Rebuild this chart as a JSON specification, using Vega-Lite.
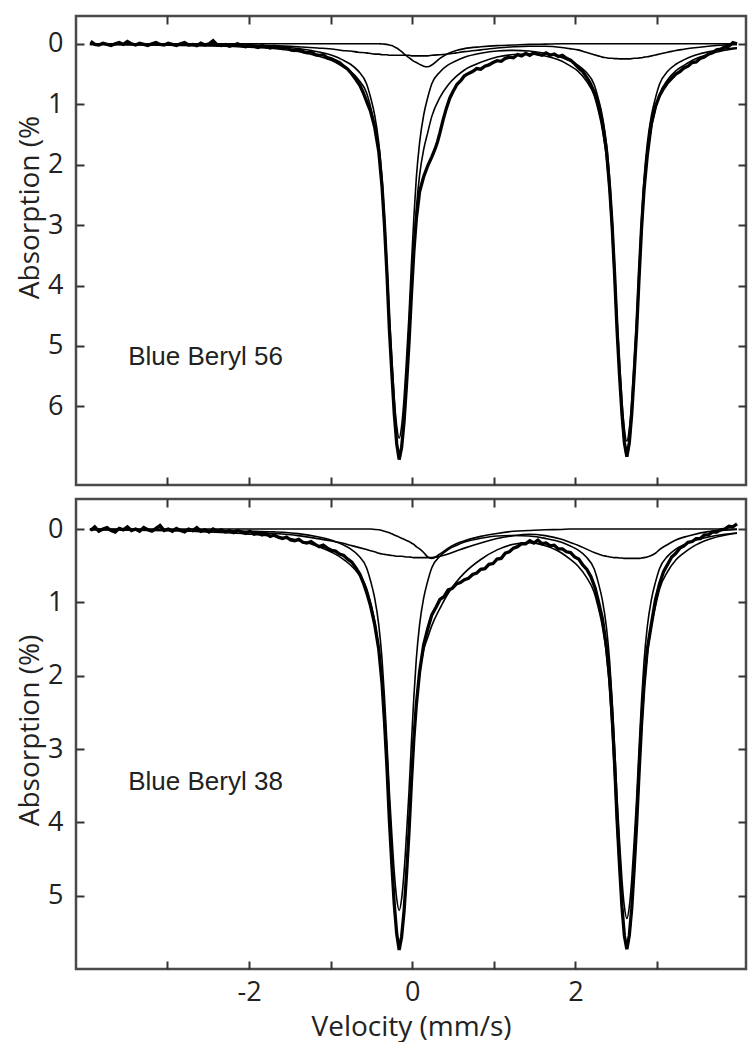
{
  "$schema": "https://vega.github.io/schema/vega-lite/v6.json",
  "padding": {"left": 14, "top": 13, "right": 0, "bottom": 0},
  "spacing": 14,
  "bounds": "flush",
  "config": {
    "view": {"stroke": "#4a4a4a", "strokeWidth": 2.5},
    "font": "Open Sans",
    "axis": {"domain": false, "grid": false, "tickColor": "#333333", "tickWidth": 2, "tickSize": -8, "labelFont": "Open Sans", "labelFontSize": 27, "labelColor": "#222222", "titleFont": "Open Sans", "titleFontSize": 28, "titleFontWeight": "normal", "titleColor": "#222222"}
  },
  "datasets": {
    "fitTop": [
      {"v":-3.95,"c":0.011,"a":0,"b":0,"t":0.011},
      {"v":-3.5,"c":0.013,"a":0,"b":0,"t":0.013},
      {"v":-3.0,"c":0.017,"a":0,"b":0.005,"t":0.022},
      {"v":-2.5,"c":0.025,"a":0,"b":0.01,"t":0.035},
      {"v":-2.0,"c":0.036,"a":0,"b":0.02,"t":0.056},
      {"v":-1.7,"c":0.048,"a":0,"b":0.03,"t":0.078},
      {"v":-1.4,"c":0.078,"a":0,"b":0.05,"t":0.128},
      {"v":-1.16,"c":0.131,"a":0,"b":0.07,"t":0.201},
      {"v":-0.96,"c":0.203,"a":0,"b":0.09,"t":0.293},
      {"v":-0.86,"c":0.262,"a":0,"b":0.11,"t":0.372},
      {"v":-0.76,"c":0.334,"a":0,"b":0.12,"t":0.454},
      {"v":-0.66,"c":0.452,"a":0,"b":0.14,"t":0.592},
      {"v":-0.56,"c":0.661,"a":0,"b":0.15,"t":0.811},
      {"v":-0.51,"c":0.889,"a":0,"b":0.16,"t":1.049},
      {"v":-0.46,"c":1.182,"a":0,"b":0.17,"t":1.352},
      {"v":-0.41,"c":1.638,"a":0,"b":0.17,"t":1.808},
      {"v":-0.37,"c":2.223,"a":0.003,"b":0.18,"t":2.406},
      {"v":-0.34,"c":2.874,"a":0.005,"b":0.18,"t":3.059},
      {"v":-0.31,"c":3.656,"a":0.01,"b":0.18,"t":3.846},
      {"v":-0.28,"c":4.502,"a":0.02,"b":0.19,"t":4.712},
      {"v":-0.25,"c":5.218,"a":0.03,"b":0.19,"t":5.438},
      {"v":-0.22,"c":5.869,"a":0.05,"b":0.19,"t":6.109},
      {"v":-0.19,"c":6.325,"a":0.07,"b":0.19,"t":6.585},
      {"v":-0.16,"c":6.524,"a":0.1,"b":0.19,"t":6.814},
      {"v":-0.13,"c":6.325,"a":0.13,"b":0.19,"t":6.645},
      {"v":-0.1,"c":5.869,"a":0.165,"b":0.19,"t":6.224},
      {"v":-0.07,"c":5.218,"a":0.2,"b":0.19,"t":5.608},
      {"v":-0.04,"c":4.502,"a":0.23,"b":0.19,"t":4.922},
      {"v":-0.01,"c":3.656,"a":0.26,"b":0.2,"t":4.116},
      {"v":0.02,"c":2.874,"a":0.29,"b":0.2,"t":3.364},
      {"v":0.05,"c":2.223,"a":0.31,"b":0.2,"t":2.733},
      {"v":0.09,"c":1.638,"a":0.34,"b":0.2,"t":2.178},
      {"v":0.14,"c":1.182,"a":0.37,"b":0.2,"t":1.752},
      {"v":0.19,"c":0.889,"a":0.38,"b":0.2,"t":1.469},
      {"v":0.24,"c":0.661,"a":0.35,"b":0.19,"t":1.201},
      {"v":0.34,"c":0.465,"a":0.24,"b":0.18,"t":0.885},
      {"v":0.44,"c":0.35,"a":0.16,"b":0.17,"t":0.68},
      {"v":0.54,"c":0.28,"a":0.11,"b":0.15,"t":0.54},
      {"v":0.64,"c":0.223,"a":0.08,"b":0.13,"t":0.433},
      {"v":0.84,"c":0.157,"a":0.05,"b":0.1,"t":0.307},
      {"v":1.04,"c":0.118,"a":0.03,"b":0.07,"t":0.218},
      {"v":1.24,"c":0.108,"a":0.02,"b":0.05,"t":0.178},
      {"v":1.43,"c":0.118,"a":0.01,"b":0.04,"t":0.168},
      {"v":1.63,"c":0.157,"a":0.005,"b":0.04,"t":0.202},
      {"v":1.83,"c":0.225,"a":0,"b":0.06,"t":0.285},
      {"v":1.93,"c":0.282,"a":0,"b":0.08,"t":0.362},
      {"v":2.03,"c":0.352,"a":0,"b":0.1,"t":0.452},
      {"v":2.13,"c":0.468,"a":0,"b":0.14,"t":0.608},
      {"v":2.23,"c":0.676,"a":0,"b":0.18,"t":0.856},
      {"v":2.28,"c":0.905,"a":0,"b":0.2,"t":1.105},
      {"v":2.33,"c":1.199,"a":0,"b":0.22,"t":1.419},
      {"v":2.38,"c":1.657,"a":0,"b":0.23,"t":1.887},
      {"v":2.42,"c":2.247,"a":0,"b":0.24,"t":2.487},
      {"v":2.45,"c":2.902,"a":0,"b":0.24,"t":3.142},
      {"v":2.48,"c":3.69,"a":0,"b":0.245,"t":3.935},
      {"v":2.51,"c":4.542,"a":0,"b":0.245,"t":4.787},
      {"v":2.54,"c":5.263,"a":0,"b":0.25,"t":5.513},
      {"v":2.57,"c":5.919,"a":0,"b":0.25,"t":6.169},
      {"v":2.6,"c":6.378,"a":0,"b":0.25,"t":6.628},
      {"v":2.63,"c":6.574,"a":0,"b":0.25,"t":6.824},
      {"v":2.66,"c":6.377,"a":0,"b":0.25,"t":6.627},
      {"v":2.69,"c":5.918,"a":0,"b":0.245,"t":6.163},
      {"v":2.72,"c":5.262,"a":0,"b":0.24,"t":5.502},
      {"v":2.75,"c":4.54,"a":0,"b":0.24,"t":4.78},
      {"v":2.78,"c":3.688,"a":0,"b":0.235,"t":3.923},
      {"v":2.81,"c":2.9,"a":0,"b":0.23,"t":3.13},
      {"v":2.84,"c":2.245,"a":0,"b":0.22,"t":2.465},
      {"v":2.88,"c":1.654,"a":0,"b":0.215,"t":1.869},
      {"v":2.93,"c":1.194,"a":0,"b":0.2,"t":1.394},
      {"v":2.98,"c":0.899,"a":0,"b":0.185,"t":1.084},
      {"v":3.03,"c":0.669,"a":0,"b":0.17,"t":0.839},
      {"v":3.13,"c":0.456,"a":0,"b":0.14,"t":0.596},
      {"v":3.23,"c":0.338,"a":0,"b":0.11,"t":0.448},
      {"v":3.33,"c":0.266,"a":0,"b":0.09,"t":0.356},
      {"v":3.43,"c":0.206,"a":0,"b":0.07,"t":0.276},
      {"v":3.63,"c":0.133,"a":0,"b":0.04,"t":0.173},
      {"v":3.83,"c":0.087,"a":0,"b":0.02,"t":0.107},
      {"v":3.98,"c":0.066,"a":0,"b":0.01,"t":0.076}
    ],
    "fitBot": [
      {"v":-3.95,"c":0.008,"a":0,"b":0,"t":0.008},
      {"v":-3.5,"c":0.01,"a":0,"b":0.005,"t":0.015},
      {"v":-3.0,"c":0.014,"a":0,"b":0.01,"t":0.024},
      {"v":-2.5,"c":0.02,"a":0,"b":0.02,"t":0.04},
      {"v":-2.0,"c":0.029,"a":0,"b":0.04,"t":0.069},
      {"v":-1.7,"c":0.039,"a":0,"b":0.06,"t":0.099},
      {"v":-1.4,"c":0.062,"a":0,"b":0.09,"t":0.152},
      {"v":-1.16,"c":0.104,"a":0,"b":0.13,"t":0.234},
      {"v":-0.96,"c":0.162,"a":0,"b":0.17,"t":0.332},
      {"v":-0.86,"c":0.209,"a":0,"b":0.19,"t":0.399},
      {"v":-0.76,"c":0.267,"a":0,"b":0.22,"t":0.487},
      {"v":-0.66,"c":0.36,"a":0,"b":0.25,"t":0.61},
      {"v":-0.56,"c":0.527,"a":0,"b":0.28,"t":0.807},
      {"v":-0.51,"c":0.709,"a":0,"b":0.295,"t":1.004},
      {"v":-0.46,"c":0.942,"a":0.005,"b":0.31,"t":1.257},
      {"v":-0.41,"c":1.306,"a":0.01,"b":0.33,"t":1.646},
      {"v":-0.37,"c":1.773,"a":0.02,"b":0.34,"t":2.133},
      {"v":-0.34,"c":2.292,"a":0.03,"b":0.345,"t":2.667},
      {"v":-0.31,"c":2.914,"a":0.04,"b":0.35,"t":3.304},
      {"v":-0.28,"c":3.589,"a":0.05,"b":0.355,"t":3.994},
      {"v":-0.25,"c":4.16,"a":0.065,"b":0.36,"t":4.585},
      {"v":-0.22,"c":4.679,"a":0.08,"b":0.365,"t":5.124},
      {"v":-0.19,"c":5.042,"a":0.095,"b":0.37,"t":5.507},
      {"v":-0.16,"c":5.201,"a":0.11,"b":0.37,"t":5.681},
      {"v":-0.13,"c":5.042,"a":0.125,"b":0.37,"t":5.537},
      {"v":-0.1,"c":4.679,"a":0.14,"b":0.375,"t":5.194},
      {"v":-0.07,"c":4.16,"a":0.155,"b":0.38,"t":4.695},
      {"v":-0.04,"c":3.589,"a":0.17,"b":0.38,"t":4.139},
      {"v":-0.01,"c":2.914,"a":0.19,"b":0.385,"t":3.489},
      {"v":0.02,"c":2.292,"a":0.21,"b":0.39,"t":2.892},
      {"v":0.05,"c":1.773,"a":0.24,"b":0.39,"t":2.403},
      {"v":0.09,"c":1.306,"a":0.27,"b":0.39,"t":1.966},
      {"v":0.14,"c":0.942,"a":0.32,"b":0.39,"t":1.652},
      {"v":0.19,"c":0.709,"a":0.38,"b":0.39,"t":1.479},
      {"v":0.24,"c":0.527,"a":0.4,"b":0.39,"t":1.317},
      {"v":0.34,"c":0.371,"a":0.34,"b":0.37,"t":1.081},
      {"v":0.44,"c":0.279,"a":0.26,"b":0.34,"t":0.879},
      {"v":0.54,"c":0.223,"a":0.2,"b":0.3,"t":0.723},
      {"v":0.64,"c":0.178,"a":0.16,"b":0.26,"t":0.598},
      {"v":0.84,"c":0.125,"a":0.1,"b":0.19,"t":0.415},
      {"v":1.04,"c":0.094,"a":0.06,"b":0.13,"t":0.284},
      {"v":1.24,"c":0.087,"a":0.03,"b":0.09,"t":0.207},
      {"v":1.43,"c":0.095,"a":0.02,"b":0.07,"t":0.185},
      {"v":1.63,"c":0.127,"a":0.01,"b":0.09,"t":0.227},
      {"v":1.83,"c":0.181,"a":0.005,"b":0.14,"t":0.326},
      {"v":1.93,"c":0.228,"a":0,"b":0.18,"t":0.408},
      {"v":2.03,"c":0.284,"a":0,"b":0.22,"t":0.504},
      {"v":2.13,"c":0.378,"a":0,"b":0.27,"t":0.648},
      {"v":2.23,"c":0.546,"a":0,"b":0.32,"t":0.866},
      {"v":2.28,"c":0.731,"a":0,"b":0.34,"t":1.071},
      {"v":2.33,"c":0.969,"a":0,"b":0.36,"t":1.329},
      {"v":2.38,"c":1.339,"a":0,"b":0.37,"t":1.709},
      {"v":2.42,"c":1.816,"a":0,"b":0.38,"t":2.196},
      {"v":2.45,"c":2.345,"a":0,"b":0.385,"t":2.73},
      {"v":2.48,"c":2.981,"a":0,"b":0.39,"t":3.371},
      {"v":2.51,"c":3.67,"a":0,"b":0.39,"t":4.06},
      {"v":2.54,"c":4.252,"a":0,"b":0.395,"t":4.647},
      {"v":2.57,"c":4.782,"a":0,"b":0.395,"t":5.177},
      {"v":2.6,"c":5.153,"a":0,"b":0.4,"t":5.553},
      {"v":2.63,"c":5.311,"a":0,"b":0.4,"t":5.711},
      {"v":2.66,"c":5.152,"a":0,"b":0.4,"t":5.552},
      {"v":2.69,"c":4.781,"a":0,"b":0.4,"t":5.181},
      {"v":2.72,"c":4.251,"a":0,"b":0.4,"t":4.651},
      {"v":2.75,"c":3.668,"a":0,"b":0.4,"t":4.068},
      {"v":2.78,"c":2.979,"a":0,"b":0.4,"t":3.379},
      {"v":2.81,"c":2.343,"a":0,"b":0.395,"t":2.738},
      {"v":2.84,"c":1.814,"a":0,"b":0.39,"t":2.204},
      {"v":2.88,"c":1.336,"a":0,"b":0.38,"t":1.716},
      {"v":2.93,"c":0.965,"a":0,"b":0.36,"t":1.325},
      {"v":2.98,"c":0.727,"a":0,"b":0.33,"t":1.057},
      {"v":3.03,"c":0.54,"a":0,"b":0.28,"t":0.82},
      {"v":3.13,"c":0.369,"a":0,"b":0.21,"t":0.579},
      {"v":3.23,"c":0.273,"a":0,"b":0.15,"t":0.423},
      {"v":3.33,"c":0.215,"a":0,"b":0.11,"t":0.325},
      {"v":3.43,"c":0.166,"a":0,"b":0.08,"t":0.246},
      {"v":3.63,"c":0.108,"a":0,"b":0.035,"t":0.143},
      {"v":3.83,"c":0.07,"a":0,"b":0.015,"t":0.085},
      {"v":3.98,"c":0.053,"a":0,"b":0.005,"t":0.058}
    ],
    "dataTop": [
      {"v":-3.94,"d":-0.04},{"v":-3.89,"d":0.01},{"v":-3.84,"d":0.02},{"v":-3.79,"d":-0.01},{"v":-3.74,"d":0.01},{"v":-3.69,"d":0.03},{"v":-3.64,"d":0.0},{"v":-3.59,"d":-0.02},{"v":-3.54,"d":0.01},{"v":-3.49,"d":-0.04},
      {"v":-3.44,"d":0.0},{"v":-3.39,"d":0.02},{"v":-3.34,"d":-0.01},{"v":-3.29,"d":0.01},{"v":-3.24,"d":0.03},{"v":-3.19,"d":0.0},{"v":-3.14,"d":-0.02},{"v":-3.09,"d":0.01},{"v":-3.04,"d":0.02},{"v":-2.99,"d":-0.01},
      {"v":-2.94,"d":0.01},{"v":-2.89,"d":0.03},{"v":-2.84,"d":0.0},{"v":-2.79,"d":-0.02},{"v":-2.74,"d":0.02},{"v":-2.69,"d":0.01},{"v":-2.64,"d":0.03},{"v":-2.59,"d":-0.01},{"v":-2.54,"d":0.02},{"v":-2.49,"d":0.0},
      {"v":-2.44,"d":-0.05},{"v":-2.39,"d":0.02},{"v":-2.34,"d":0.03},{"v":-2.29,"d":0.01},{"v":-2.24,"d":0.04},{"v":-2.19,"d":0.02},{"v":-2.14,"d":0.0},{"v":-2.09,"d":0.03},{"v":-2.04,"d":0.05},{"v":-1.99,"d":0.02},
      {"v":-1.94,"d":0.04},{"v":-1.89,"d":0.06},{"v":-1.84,"d":0.03},{"v":-1.79,"d":0.05},{"v":-1.74,"d":0.07},{"v":-1.69,"d":0.04},{"v":-1.64,"d":0.06},{"v":-1.59,"d":0.08},{"v":-1.54,"d":0.06},{"v":-1.49,"d":0.1},
      {"v":-1.44,"d":0.11},{"v":-1.39,"d":0.09},{"v":-1.34,"d":0.13},{"v":-1.29,"d":0.15},{"v":-1.24,"d":0.13},{"v":-1.19,"d":0.18},{"v":-1.14,"d":0.19},{"v":-1.09,"d":0.18},{"v":-1.04,"d":0.23},{"v":-0.99,"d":0.25},
      {"v":-0.94,"d":0.28},{"v":-0.89,"d":0.31},{"v":-0.84,"d":0.37},{"v":-0.79,"d":0.42},{"v":-0.74,"d":0.5},{"v":-0.69,"d":0.59},{"v":-0.64,"d":0.69},{"v":-0.6,"d":0.81},{"v":-0.56,"d":0.95},{"v":-0.51,"d":1.12},
      {"v":-0.46,"d":1.38},{"v":-0.41,"d":1.78},{"v":-0.37,"d":2.36},{"v":-0.34,"d":3.0},{"v":-0.31,"d":3.8},{"v":-0.28,"d":4.72},{"v":-0.25,"d":5.44},{"v":-0.22,"d":6.12},{"v":-0.19,"d":6.62},{"v":-0.16,"d":6.88},
      {"v":-0.13,"d":6.68},{"v":-0.1,"d":6.25},{"v":-0.07,"d":5.64},{"v":-0.04,"d":4.96},{"v":-0.01,"d":4.16},{"v":0.02,"d":3.44},{"v":0.05,"d":2.9},{"v":0.09,"d":2.45},{"v":0.14,"d":2.2},{"v":0.19,"d":2.02},
      {"v":0.24,"d":1.87},{"v":0.28,"d":1.74},{"v":0.31,"d":1.62},{"v":0.34,"d":1.47},{"v":0.38,"d":1.25},{"v":0.42,"d":1.06},{"v":0.46,"d":0.9},{"v":0.5,"d":0.79},{"v":0.55,"d":0.67},{"v":0.6,"d":0.6},
      {"v":0.64,"d":0.53},{"v":0.69,"d":0.49},{"v":0.74,"d":0.46},{"v":0.79,"d":0.41},{"v":0.84,"d":0.42},{"v":0.89,"d":0.37},{"v":0.94,"d":0.35},{"v":0.99,"d":0.31},{"v":1.04,"d":0.28},{"v":1.09,"d":0.29},
      {"v":1.14,"d":0.24},{"v":1.19,"d":0.22},{"v":1.24,"d":0.23},{"v":1.29,"d":0.18},{"v":1.34,"d":0.2},{"v":1.39,"d":0.16},{"v":1.44,"d":0.19},{"v":1.49,"d":0.15},{"v":1.54,"d":0.17},{"v":1.59,"d":0.19},
      {"v":1.64,"d":0.15},{"v":1.69,"d":0.19},{"v":1.74,"d":0.17},{"v":1.79,"d":0.21},{"v":1.84,"d":0.19},{"v":1.89,"d":0.24},{"v":1.94,"d":0.27},{"v":1.99,"d":0.33},{"v":2.04,"d":0.4},{"v":2.09,"d":0.46},
      {"v":2.14,"d":0.56},{"v":2.18,"d":0.65},{"v":2.23,"d":0.8},{"v":2.28,"d":0.99},{"v":2.33,"d":1.3},{"v":2.38,"d":1.76},{"v":2.42,"d":2.4},{"v":2.45,"d":3.02},{"v":2.48,"d":3.82},{"v":2.51,"d":4.74},
      {"v":2.54,"d":5.48},{"v":2.57,"d":6.12},{"v":2.6,"d":6.6},{"v":2.63,"d":6.83},{"v":2.66,"d":6.6},{"v":2.69,"d":6.12},{"v":2.72,"d":5.45},{"v":2.75,"d":4.74},{"v":2.78,"d":3.86},{"v":2.81,"d":3.05},
      {"v":2.84,"d":2.42},{"v":2.88,"d":1.85},{"v":2.93,"d":1.32},{"v":2.98,"d":1.04},{"v":3.03,"d":0.86},{"v":3.08,"d":0.74},{"v":3.13,"d":0.64},{"v":3.18,"d":0.57},{"v":3.23,"d":0.5},{"v":3.28,"d":0.46},
      {"v":3.33,"d":0.4},{"v":3.38,"d":0.37},{"v":3.43,"d":0.31},{"v":3.48,"d":0.3},{"v":3.53,"d":0.24},{"v":3.58,"d":0.22},{"v":3.63,"d":0.17},{"v":3.68,"d":0.15},{"v":3.73,"d":0.1},{"v":3.78,"d":0.09},
      {"v":3.83,"d":0.05},{"v":3.88,"d":0.04},{"v":3.93,"d":-0.02},{"v":3.98,"d":0.0}
    ],
    "dataBot": [
      {"v":-3.94,"d":0.02},{"v":-3.89,"d":-0.03},{"v":-3.84,"d":0.03},{"v":-3.79,"d":0.0},{"v":-3.74,"d":-0.02},{"v":-3.69,"d":0.02},{"v":-3.64,"d":0.04},{"v":-3.59,"d":-0.01},{"v":-3.54,"d":0.01},{"v":-3.49,"d":-0.03},
      {"v":-3.44,"d":0.02},{"v":-3.39,"d":0.0},{"v":-3.34,"d":0.03},{"v":-3.29,"d":-0.02},{"v":-3.24,"d":0.01},{"v":-3.19,"d":0.03},{"v":-3.14,"d":-0.01},{"v":-3.09,"d":-0.05},{"v":-3.04,"d":0.02},{"v":-2.99,"d":0.0},
      {"v":-2.94,"d":0.03},{"v":-2.89,"d":-0.01},{"v":-2.84,"d":0.02},{"v":-2.79,"d":0.04},{"v":-2.74,"d":0.0},{"v":-2.69,"d":0.02},{"v":-2.64,"d":-0.02},{"v":-2.59,"d":0.03},{"v":-2.54,"d":0.01},{"v":-2.49,"d":0.04},
      {"v":-2.44,"d":0.0},{"v":-2.39,"d":0.03},{"v":-2.34,"d":0.01},{"v":-2.29,"d":0.04},{"v":-2.24,"d":0.02},{"v":-2.19,"d":0.05},{"v":-2.14,"d":0.02},{"v":-2.09,"d":0.04},{"v":-2.04,"d":0.06},{"v":-1.99,"d":0.03},
      {"v":-1.94,"d":0.07},{"v":-1.89,"d":0.05},{"v":-1.84,"d":0.08},{"v":-1.79,"d":0.06},{"v":-1.74,"d":0.1},{"v":-1.69,"d":0.08},{"v":-1.64,"d":0.11},{"v":-1.59,"d":0.13},{"v":-1.54,"d":0.11},{"v":-1.49,"d":0.15},
      {"v":-1.44,"d":0.16},{"v":-1.39,"d":0.14},{"v":-1.34,"d":0.18},{"v":-1.29,"d":0.19},{"v":-1.24,"d":0.17},{"v":-1.19,"d":0.21},{"v":-1.14,"d":0.24},{"v":-1.09,"d":0.22},{"v":-1.04,"d":0.26},{"v":-0.99,"d":0.29},
      {"v":-0.94,"d":0.3},{"v":-0.89,"d":0.34},{"v":-0.84,"d":0.36},{"v":-0.79,"d":0.41},{"v":-0.74,"d":0.45},{"v":-0.69,"d":0.53},{"v":-0.64,"d":0.62},{"v":-0.6,"d":0.73},{"v":-0.56,"d":0.86},{"v":-0.51,"d":1.05},
      {"v":-0.46,"d":1.3},{"v":-0.41,"d":1.64},{"v":-0.37,"d":2.1},{"v":-0.34,"d":2.62},{"v":-0.31,"d":3.24},{"v":-0.28,"d":3.97},{"v":-0.25,"d":4.57},{"v":-0.22,"d":5.12},{"v":-0.19,"d":5.52},{"v":-0.16,"d":5.74},
      {"v":-0.13,"d":5.56},{"v":-0.1,"d":5.21},{"v":-0.07,"d":4.71},{"v":-0.04,"d":4.14},{"v":-0.01,"d":3.46},{"v":0.02,"d":2.86},{"v":0.05,"d":2.4},{"v":0.09,"d":1.95},{"v":0.14,"d":1.58},{"v":0.19,"d":1.36},
      {"v":0.24,"d":1.17},{"v":0.29,"d":1.07},{"v":0.34,"d":0.96},{"v":0.39,"d":0.92},{"v":0.44,"d":0.83},{"v":0.49,"d":0.81},{"v":0.54,"d":0.75},{"v":0.59,"d":0.73},{"v":0.64,"d":0.69},{"v":0.69,"d":0.67},
      {"v":0.74,"d":0.62},{"v":0.79,"d":0.6},{"v":0.84,"d":0.55},{"v":0.89,"d":0.54},{"v":0.94,"d":0.48},{"v":0.99,"d":0.47},{"v":1.04,"d":0.41},{"v":1.09,"d":0.4},{"v":1.14,"d":0.33},{"v":1.19,"d":0.31},
      {"v":1.24,"d":0.26},{"v":1.29,"d":0.24},{"v":1.34,"d":0.2},{"v":1.39,"d":0.2},{"v":1.44,"d":0.16},{"v":1.49,"d":0.19},{"v":1.54,"d":0.15},{"v":1.59,"d":0.2},{"v":1.64,"d":0.19},{"v":1.69,"d":0.23},
      {"v":1.74,"d":0.22},{"v":1.79,"d":0.27},{"v":1.84,"d":0.27},{"v":1.89,"d":0.31},{"v":1.94,"d":0.32},{"v":1.99,"d":0.38},{"v":2.04,"d":0.41},{"v":2.09,"d":0.49},{"v":2.14,"d":0.55},{"v":2.19,"d":0.65},
      {"v":2.24,"d":0.8},{"v":2.28,"d":0.98},{"v":2.33,"d":1.22},{"v":2.38,"d":1.6},{"v":2.42,"d":2.05},{"v":2.45,"d":2.56},{"v":2.48,"d":3.2},{"v":2.51,"d":3.96},{"v":2.54,"d":4.58},{"v":2.57,"d":5.15},
      {"v":2.6,"d":5.55},{"v":2.63,"d":5.73},{"v":2.66,"d":5.54},{"v":2.69,"d":5.17},{"v":2.72,"d":4.62},{"v":2.75,"d":4.02},{"v":2.78,"d":3.32},{"v":2.81,"d":2.66},{"v":2.84,"d":2.14},{"v":2.88,"d":1.64},
      {"v":2.93,"d":1.3},{"v":2.98,"d":0.97},{"v":3.03,"d":0.75},{"v":3.08,"d":0.58},{"v":3.13,"d":0.48},{"v":3.18,"d":0.38},{"v":3.23,"d":0.33},{"v":3.28,"d":0.26},{"v":3.33,"d":0.23},{"v":3.38,"d":0.18},
      {"v":3.43,"d":0.17},{"v":3.48,"d":0.13},{"v":3.53,"d":0.13},{"v":3.58,"d":0.08},{"v":3.63,"d":0.08},{"v":3.68,"d":0.04},{"v":3.73,"d":0.04},{"v":3.78,"d":0.01},{"v":3.83,"d":0.0},{"v":3.88,"d":-0.04},
      {"v":3.93,"d":-0.03},{"v":3.98,"d":-0.07}
    ],
    "labelTop": [{"v":-3.48,"y":5.19,"label":"Blue Beryl 56"}],
    "labelBot": [{"v":-3.48,"y":3.45,"label":"Blue Beryl 38"}]
  },
  "vconcat": [
    {
      "width": 670,
      "height": 469,
      "layer": [
        {
          "data": {"name": "fitTop"},
          "transform": [{"fold": ["c", "a", "b", "t"], "as": ["comp", "val"]}],
          "mark": {"type": "line", "color": "black", "strokeWidth": 1.6, "interpolate": "monotone", "clip": true},
          "encoding": {
            "x": {"field": "v", "type": "quantitative", "scale": {"domain": [-4.12, 4.09], "nice": false, "zero": false}, "axis": {"orient": "bottom", "values": [-3, -2, -1, 0, 1, 2, 3], "labels": false, "title": null}},
            "y": {"field": "val", "type": "quantitative", "scale": {"domain": [-0.46, 7.3], "nice": false, "zero": false, "reverse": true}, "axis": {"orient": "left", "values": [0, 1, 2, 3, 4, 5, 6], "labelPadding": 21, "title": "Absorption (%", "titleAngle": 270, "titleX": -38, "titleY": 191, "titleAlign": "center", "titleBaseline": "alphabetic"}},
            "detail": {"field": "comp"}
          }
        },
        {
          "data": {"name": "dataTop"},
          "mark": {"type": "line", "color": "black", "strokeWidth": 3.3, "clip": true},
          "encoding": {
            "x": {"field": "v", "type": "quantitative", "scale": {"domain": [-4.12, 4.09], "nice": false, "zero": false}, "axis": {"orient": "top", "values": [-3, -2, -1, 0, 1, 2, 3], "labels": false, "title": null}},
            "y": {"field": "d", "type": "quantitative", "scale": {"domain": [-0.46, 7.3], "nice": false, "zero": false, "reverse": true}, "axis": {"orient": "right", "values": [0, 1, 2, 3, 4, 5, 6], "labels": false, "title": null}}
          }
        },
        {
          "data": {"name": "labelTop"},
          "mark": {"type": "text", "align": "left", "baseline": "middle", "font": "Liberation Sans", "fontSize": 26, "color": "#222222"},
          "encoding": {
            "x": {"field": "v", "type": "quantitative", "axis": null},
            "y": {"field": "y", "type": "quantitative", "axis": null},
            "text": {"field": "label"}
          }
        }
      ],
      "resolve": {"axis": {"x": "independent", "y": "independent"}}
    },
    {
      "width": 670,
      "height": 470,
      "layer": [
        {
          "data": {"name": "fitBot"},
          "transform": [{"fold": ["c", "a", "b", "t"], "as": ["comp", "val"]}],
          "mark": {"type": "line", "color": "black", "strokeWidth": 1.6, "interpolate": "monotone", "clip": true},
          "encoding": {
            "x": {"field": "v", "type": "quantitative", "scale": {"domain": [-4.12, 4.09], "nice": false, "zero": false}, "axis": {"orient": "bottom", "values": [-3, -2, -1, 0, 1, 2, 3], "labelExpr": "datum.value % 2 === 0 ? toString(datum.value) : ''", "labelPadding": 18, "title": "Velocity (mm/s)", "titleY": 66, "titleBaseline": "alphabetic"}},
            "y": {"field": "val", "type": "quantitative", "scale": {"domain": [-0.41, 6.0], "nice": false, "zero": false, "reverse": true}, "axis": {"orient": "left", "values": [0, 1, 2, 3, 4, 5], "labelPadding": 21, "title": "Absorption (%)", "titleAngle": 270, "titleX": -38, "titleY": 231, "titleAlign": "center", "titleBaseline": "alphabetic"}},
            "detail": {"field": "comp"}
          }
        },
        {
          "data": {"name": "dataBot"},
          "mark": {"type": "line", "color": "black", "strokeWidth": 3.3, "clip": true},
          "encoding": {
            "x": {"field": "v", "type": "quantitative", "scale": {"domain": [-4.12, 4.09], "nice": false, "zero": false}, "axis": {"orient": "top", "values": [-3, -2, -1, 0, 1, 2, 3], "labels": false, "title": null}},
            "y": {"field": "d", "type": "quantitative", "scale": {"domain": [-0.41, 6.0], "nice": false, "zero": false, "reverse": true}, "axis": {"orient": "right", "values": [0, 1, 2, 3, 4, 5], "labels": false, "title": null}}
          }
        },
        {
          "data": {"name": "labelBot"},
          "mark": {"type": "text", "align": "left", "baseline": "middle", "font": "Liberation Sans", "fontSize": 26, "color": "#222222"},
          "encoding": {
            "x": {"field": "v", "type": "quantitative", "axis": null},
            "y": {"field": "y", "type": "quantitative", "axis": null},
            "text": {"field": "label"}
          }
        }
      ],
      "resolve": {"axis": {"x": "independent", "y": "independent"}}
    }
  ]
}
